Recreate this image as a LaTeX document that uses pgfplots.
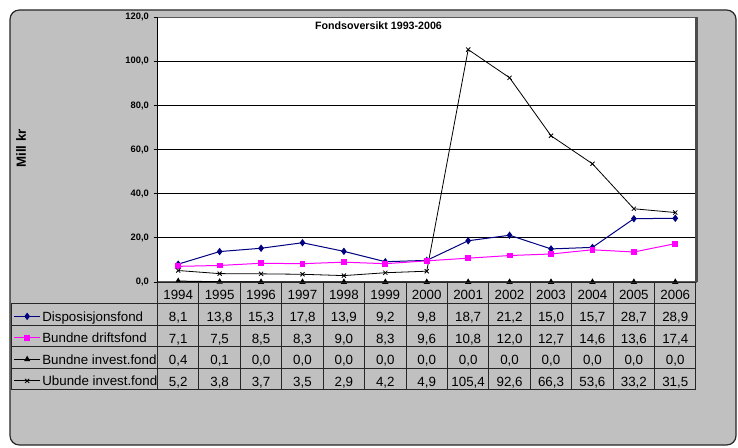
\documentclass[border=0pt]{standalone}
\usepackage{fontspec}
\setmainfont{Liberation Sans}
\usepackage{pgfplots}
\usepackage{pgfplotstable}
\pgfplotsset{compat=1.18}
\definecolor{chartgray}{HTML}{C0C0C0}
\definecolor{navyx}{HTML}{000080}
\definecolor{magx}{HTML}{FF00FF}

\pgfplotstableread{
x disp drift binv ubinv
0 8.1 7.1 0.4 5.2
1 13.8 7.5 0.1 3.8
2 15.3 8.5 0.0 3.7
3 17.8 8.3 0.0 3.5
4 13.9 9.0 0.0 2.9
5 9.2 8.3 0.0 4.2
6 9.8 9.6 0.0 4.9
7 18.7 10.8 0.0 105.4
8 21.2 12.0 0.0 92.6
9 15.0 12.7 0.0 66.3
10 15.7 14.6 0.0 53.6
11 28.7 13.6 0.0 33.2
12 28.9 17.4 0.0 31.5
}\fonddata

\begin{document}
\begin{tikzpicture}
\path (0,0) rectangle (553.5pt,335.25pt);
\begin{scope}[x=0.75pt,y=-0.75pt,shift={(0pt,335.25pt)}]
\draw[fill=chartgray, draw=black!85, line width=0.9pt, rounded corners=7pt] (10,10) rectangle (736,445);
\end{scope}

\begin{axis}[
  at={(118.125pt,123.75pt)}, anchor=south west,
  scale only axis, width=403.875pt, height=198.5pt,
  xmin=-0.5, xmax=12.5, ymin=0, ymax=120,
  xtick=\empty,
  ytick={0,20,...,120}, ytick pos=left,
  tick align=outside, major tick length=3pt,
  tick style={black, line width=0.75pt},
  ymajorgrids, grid style={black, line width=0.75pt},
  axis line style={draw=gray!70!black, line width=0.9pt},
  axis background/.style={fill=white},
  yticklabel style={font=\bfseries\fontsize{7}{8}\selectfont,
    /pgf/number format/.cd, fixed, fixed zerofill, precision=1, use comma, assume math mode=true},
  every axis title shift=0pt,
  title={Fondsoversikt 1993-2006},
  title style={at={(axis description cs:0.4104,0.968)}, anchor=center, font=\bfseries\fontsize{8}{9}\selectfont},
  ylabel={Mill kr},
  ylabel style={at={(axis description cs:-0.2535,0.505)}, anchor=center, font=\bfseries\fontsize{10}{12}\selectfont},
  legend cell align=left,
  legend style={at={(axis description cs:-0.2665,-0.0812)}, anchor=north west,
    draw=none, fill=none, inner sep=0pt, outer sep=0pt, row sep=0pt, column sep=1.5pt,
    nodes={inner sep=0pt, text height=13.5pt, text depth=2.625pt, font=\fontsize{10}{12}\selectfont}},
  legend image code/.code={\draw[mark repeat=2,mark phase=2,#1] plot coordinates {(0pt,-1.6pt)(9.5pt,-1.6pt)(19pt,-1.6pt)};},
]
\addplot[navyx, line width=0.75pt, mark=diamond*, mark size=2.2pt, mark options={fill=navyx}] table[x=x,y=disp] {\fonddata};
\addlegendentry{Disposisjonsfond}
\addplot[magx, line width=0.75pt, mark=square*, mark size=1.8pt, mark options={fill=magx}] table[x=x,y=drift] {\fonddata};
\addlegendentry{Bundne driftsfond}
\addplot[black, line width=0.75pt, mark=triangle*, mark size=2pt, mark options={fill=black}] table[x=x,y=binv] {\fonddata};
\addlegendentry{Bundne invest.fond}
\addplot[black, line width=0.6pt, mark=x, mark size=2.2pt] table[x=x,y=ubinv] {\fonddata};
\addlegendentry{Ubunde invest.fond}
\end{axis}

\begin{scope}[x=0.75pt,y=-0.75pt,shift={(0pt,335.25pt)}, every node/.style={font=\fontsize{10}{12}\selectfont, anchor=base, inner sep=0pt}]
% table grid
\draw[black!85, line width=0.75pt] (157.5,282) -- (696,282);
\foreach \yy in {303.5,325,346.5,368,389.5} \draw[black!85, line width=0.75pt] (11,\yy) -- (696,\yy);
\draw[black!85, line width=0.75pt] (11,303.5) -- (11,389.5);
\foreach \k in {0,...,13} \draw[black!85, line width=0.75pt] ({157.5+41.42*\k},282) -- ({157.5+41.42*\k},389.5);
\draw[gray!60!black, line width=1.6pt] (696.5,17.3) -- (696.5,282);
\draw[black, line width=0.9pt] (157.5,17.3) -- (157.5,282);
% years
\foreach \v [count=\i from 0] in {1994,1995,1996,1997,1998,1999,2000,2001,2002,2003,2004,2005,2006}
  \node at ({157.5+41.42*(\i+0.5)},299.5) {\v};
\foreach \v [count=\i from 0] in {{8,1},{13,8},{15,3},{17,8},{13,9},{9,2},{9,8},{18,7},{21,2},{15,0},{15,7},{28,7},{28,9}}
  \node at ({157.5+41.42*(\i+0.5)},321.5) {\v};
\foreach \v [count=\i from 0] in {{7,1},{7,5},{8,5},{8,3},{9,0},{8,3},{9,6},{10,8},{12,0},{12,7},{14,6},{13,6},{17,4}}
  \node at ({157.5+41.42*(\i+0.5)},343) {\v};
\foreach \v [count=\i from 0] in {{0,4},{0,1},{0,0},{0,0},{0,0},{0,0},{0,0},{0,0},{0,0},{0,0},{0,0},{0,0},{0,0}}
  \node at ({157.5+41.42*(\i+0.5)},364.5) {\v};
\foreach \v [count=\i from 0] in {{5,2},{3,8},{3,7},{3,5},{2,9},{4,2},{4,9},{105,4},{92,6},{66,3},{53,6},{33,2},{31,5}}
  \node at ({157.5+41.42*(\i+0.5)},386) {\v};
\end{scope}
\end{tikzpicture}
\end{document}
